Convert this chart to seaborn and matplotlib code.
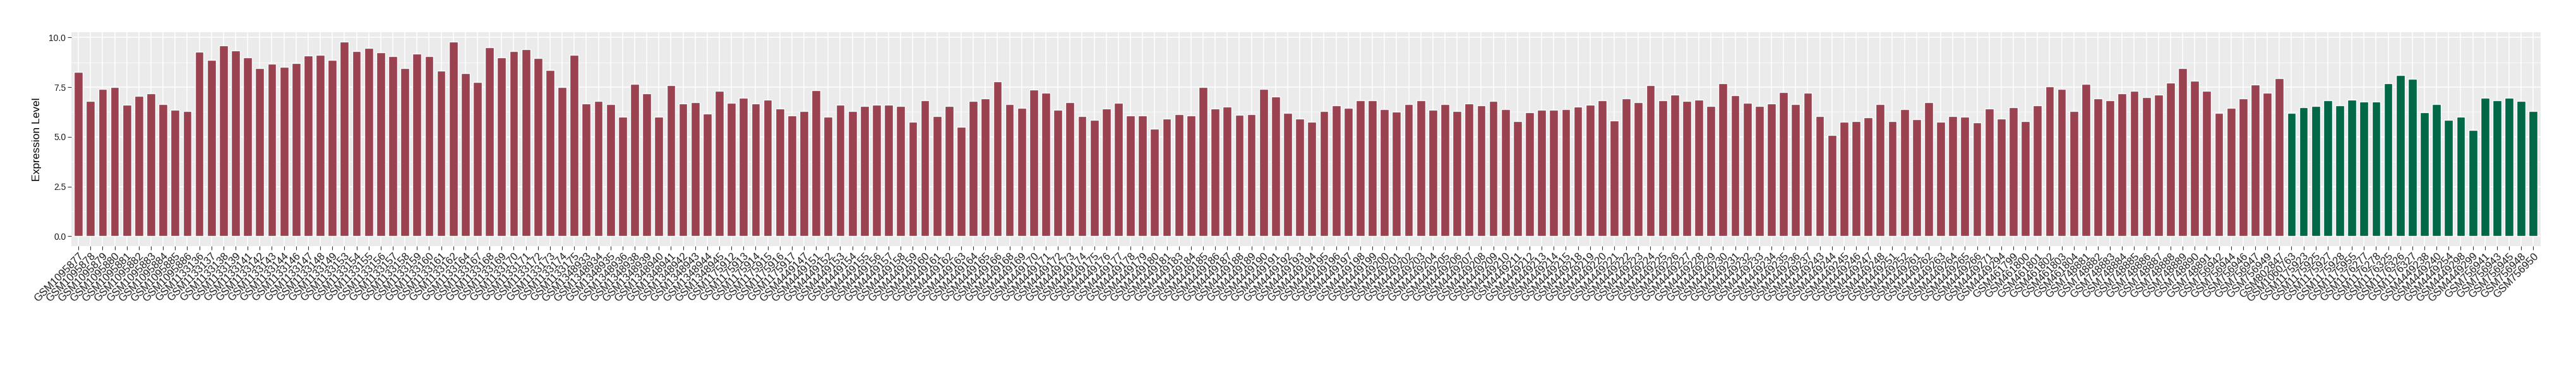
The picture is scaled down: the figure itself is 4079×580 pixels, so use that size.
import numpy as np
import pandas as pd
import seaborn as sns
import matplotlib.pyplot as plt
from matplotlib.ticker import MultipleLocator, FormatStrFormatter

# samples in the first (red) group
tumor_samples = [
    "GSM1095877", "GSM1095878", "GSM1095879", "GSM1095880", "GSM1095881", "GSM1095882",
    "GSM1095883", "GSM1095884", "GSM1095885", "GSM1095886", "GSM1133136", "GSM1133137",
    "GSM1133138", "GSM1133139", "GSM1133141", "GSM1133142", "GSM1133143", "GSM1133144",
    "GSM1133146", "GSM1133147", "GSM1133148", "GSM1133149", "GSM1133153", "GSM1133154",
    "GSM1133155", "GSM1133156", "GSM1133157", "GSM1133158", "GSM1133159", "GSM1133160",
    "GSM1133161", "GSM1133162", "GSM1133164", "GSM1133167", "GSM1133168", "GSM1133169",
    "GSM1133170", "GSM1133171", "GSM1133172", "GSM1133173", "GSM1133174", "GSM1133175",
    "GSM1348933", "GSM1348934", "GSM1348935", "GSM1348936", "GSM1348938", "GSM1348939",
    "GSM1348940", "GSM1348941", "GSM1348942", "GSM1348943", "GSM1348944", "GSM1348945",
    "GSM1175912", "GSM1175913", "GSM1175914", "GSM1175915", "GSM1175916", "GSM1175917",
    "GSM4449147", "GSM4449151", "GSM4449152", "GSM4449153", "GSM4449154", "GSM4449155",
    "GSM4449156", "GSM4449157", "GSM4449158", "GSM4449159", "GSM4449160", "GSM4449161",
    "GSM4449162", "GSM4449163", "GSM4449164", "GSM4449165", "GSM4449166", "GSM4449168",
    "GSM4449169", "GSM4449170", "GSM4449171", "GSM4449172", "GSM4449173", "GSM4449174",
    "GSM4449175", "GSM4449176", "GSM4449177", "GSM4449178", "GSM4449179", "GSM4449180",
    "GSM4449181", "GSM4449183", "GSM4449184", "GSM4449185", "GSM4449186", "GSM4449187",
    "GSM4449188", "GSM4449189", "GSM4449190", "GSM4449191", "GSM4449192", "GSM4449193",
    "GSM4449194", "GSM4449195", "GSM4449196", "GSM4449197", "GSM4449198", "GSM4449199",
    "GSM4449200", "GSM4449201", "GSM4449202", "GSM4449203", "GSM4449204", "GSM4449205",
    "GSM4449206", "GSM4449207", "GSM4449208", "GSM4449209", "GSM4449210", "GSM4449211",
    "GSM4449212", "GSM4449213", "GSM4449214", "GSM4449215", "GSM4449218", "GSM4449219",
    "GSM4449220", "GSM4449221", "GSM4449222", "GSM4449223", "GSM4449224", "GSM4449225",
    "GSM4449226", "GSM4449227", "GSM4449228", "GSM4449229", "GSM4449230", "GSM4449231",
    "GSM4449232", "GSM4449233", "GSM4449234", "GSM4449235", "GSM4449236", "GSM4449237",
    "GSM4449243", "GSM4449244", "GSM4449245", "GSM4449246", "GSM4449247", "GSM4449248",
    "GSM4449251", "GSM4449252", "GSM4449261", "GSM4449262", "GSM4449263", "GSM4449264",
    "GSM4449265", "GSM4449266", "GSM4449271", "GSM4449294", "GSM461799", "GSM461800",
    "GSM461801", "GSM461802", "GSM461803", "GSM461804", "GSM748881", "GSM748882",
    "GSM748883", "GSM748884", "GSM748885", "GSM748886", "GSM748887", "GSM748888",
    "GSM748889", "GSM748890", "GSM748891", "GSM756942", "GSM756944", "GSM756946",
    "GSM756947", "GSM756949", "GSM802847",
]
tumor_values = [
    8.26, 6.80, 7.42, 7.49, 6.60, 7.05, 7.17, 6.63, 6.35, 6.28, 9.28, 8.85,
    9.60, 9.33, 9.00, 8.46, 8.66, 8.51, 8.71, 9.08, 9.13, 8.88, 9.77, 9.31,
    9.48, 9.25, 9.05, 8.46, 9.17, 9.05, 8.34, 9.77, 8.19, 7.74, 9.51, 9.00,
    9.31, 9.40, 8.97, 8.36, 7.51, 9.13, 6.68, 6.80, 6.63, 6.00, 7.66, 7.17,
    6.00, 7.59, 6.68, 6.74, 6.17, 7.31, 6.72, 6.97, 6.68, 6.88, 6.43, 6.08,
    6.28, 7.34, 6.00, 6.60, 6.31, 6.54, 6.60, 6.60, 6.54, 5.74, 6.85, 6.03,
    6.54, 5.51, 6.80, 6.94, 7.79, 6.65, 6.45, 7.37, 7.20, 6.35, 6.74, 6.05,
    5.86, 6.43, 6.72, 6.08, 6.08, 5.40, 5.91, 6.15, 6.08, 7.51, 6.43, 6.52,
    6.11, 6.15, 7.40, 7.02, 6.20, 5.91, 5.77, 6.28, 6.57, 6.45, 6.85, 6.82,
    6.40, 6.25, 6.63, 6.85, 6.37, 6.65, 6.28, 6.68, 6.57, 6.80, 6.40, 5.80,
    6.23, 6.37, 6.37, 6.40, 6.52, 6.60, 6.82, 5.83, 6.92, 6.74, 7.59, 6.82,
    7.12, 6.80, 6.88, 6.54, 7.69, 7.09, 6.72, 6.54, 6.68, 7.25, 6.65, 7.20,
    6.05, 5.09, 5.77, 5.80, 5.97, 6.63, 5.80, 6.40, 5.88, 6.74, 5.77, 6.05,
    6.00, 5.71, 6.43, 5.91, 6.48, 5.80, 6.57, 7.54, 7.42, 6.28, 7.66, 6.92,
    6.82, 7.17, 7.31, 7.00, 7.12, 7.71, 8.46, 7.82, 7.31, 6.20, 6.45, 6.92,
    7.62, 7.22, 7.94,
]

# samples in the second (green) group
normal_samples = [
    "GSM1060763", "GSM1175923", "GSM1175925", "GSM1175927", "GSM1175928", "GSM1175955",
    "GSM1176277", "GSM1176278", "GSM1176325", "GSM1176326", "GSM1176327", "GSM4449238",
    "GSM4449240", "GSM4449254", "GSM4449298", "GSM4449299", "GSM756941", "GSM756943",
    "GSM756945", "GSM756948", "GSM756950",
]
normal_values = [
    6.20, 6.48, 6.54, 6.82, 6.57, 6.88, 6.77, 6.77, 7.69, 8.11, 7.91, 6.23,
    6.65, 5.86, 6.00, 5.34, 6.97, 6.82, 6.97, 6.80, 6.31,
]

df = pd.DataFrame({
    "sample": tumor_samples + normal_samples,
    "expr": tumor_values + normal_values,
    "group": ["tumor"] * len(tumor_samples) + ["normal"] * len(normal_samples),
})

sns.set_theme(style="darkgrid", rc={
    "axes.facecolor": "#EBEBEB",
    "grid.color": "white",
    "axes.edgecolor": "#EBEBEB",
})
plt.rcParams["font.family"] = ["Liberation Sans", "DejaVu Sans"]

fig, ax = plt.subplots(figsize=(40.8, 5.8), dpi=100)
fig.subplots_adjust(left=0.0276, right=0.986, top=0.912, bottom=0.328)

sns.barplot(data=df, x="sample", y="expr", hue="group",
            palette={"tumor": "#9B4251", "normal": "#006847"},
            dodge=False, width=0.72, saturation=1, legend=False, ax=ax)

n = len(df)
ymax = df["expr"].max()
ax.set_xlim(-0.6, n - 1 + 0.6)
ax.set_ylim(-0.05 * ymax, 10.26)

ax.yaxis.set_major_locator(MultipleLocator(2.5))
ax.yaxis.set_minor_locator(MultipleLocator(1.25))
ax.yaxis.set_major_formatter(FormatStrFormatter("%.1f"))
ax.set_axisbelow(True)
ax.grid(which="major", color="white", linewidth=1.1)
ax.grid(which="minor", axis="y", color="white", linewidth=0.5)
for s in ax.spines.values():
    s.set_visible(False)

ax.tick_params(axis="both", which="major", length=4, width=0.8, color="#333333",
               labelcolor="#1A1A1A", pad=2, bottom=True, left=True)
ax.tick_params(axis="y", which="major", labelsize=10)
ax.tick_params(axis="x", which="major", labelsize=12)
ax.tick_params(axis="y", which="minor", length=0)
plt.setp(ax.get_xticklabels(), rotation=45, ha="right", va="top", rotation_mode="anchor")

ax.set_xlabel("")
ax.set_ylabel("Expression Level", fontsize=12.5, color="black", labelpad=8)

fig.savefig("out.png", dpi=100)
